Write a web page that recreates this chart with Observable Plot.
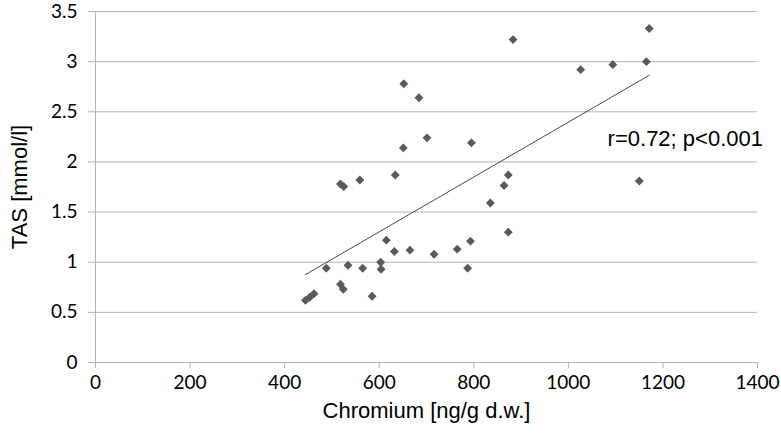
<!DOCTYPE html>
<html>
<head>
<meta charset="utf-8">
<script src="https://cdn.jsdelivr.net/npm/d3@7"></script>
<script src="https://cdn.jsdelivr.net/npm/@observablehq/plot@0.6"></script>
<style>
  html, body { margin: 0; padding: 0; background: #fff; }
  #chart { width: 781px; height: 443px; }
</style>
</head>
<body>
<div id="chart"></div>
<script>
const chromium = [444, 453, 462, 488, 518, 524, 518, 525, 534, 559, 565, 585, 603, 604, 615, 632, 634, 651, 652, 665, 684, 701, 716, 765, 787, 793, 795, 835, 864, 873, 873, 883, 1026, 1094, 1150, 1165, 1171];
const tas      = [0.62, 0.65, 0.685, 0.94, 0.78, 0.73, 1.78, 1.755, 0.97, 1.82, 0.94, 0.66, 1.0, 0.93, 1.22, 1.107, 1.87, 2.14, 2.78, 1.12, 2.64, 2.24, 1.08, 1.13, 0.94, 1.21, 2.19, 1.59, 1.765, 1.87, 1.30, 3.22, 2.92, 2.97, 1.81, 3.00, 3.33];
const xTicks = [0, 200, 400, 600, 800, 1000, 1200, 1400];
const yTicks = [0, 0.5, 1, 1.5, 2, 2.5, 3, 3.5];
const xTitle = "Chromium [ng/g d.w.]";
const yTitle = "TAS [mmol/l]";
const noteText = "r=0.72; p<0.001";
const noteX = 1083;
const noteY = 2.23;

const data = chromium.map((x, i) => ({x, y: tas[i]}));
const gridColor = "#b4b4b4";
const titleFont = "'Liberation Sans', Arial, sans-serif";

const chart = Plot.plot({
  width: 781,
  height: 443,
  marginLeft: 95,
  marginRight: 24,
  marginTop: 11,
  marginBottom: 81,
  style: {fontFamily: "Lato, sans-serif", fontSize: "19px", color: "#000", background: "#fff", overflow: "visible"},
  x: {domain: [0, 1400], label: null},
  y: {domain: [0, 3.5], label: null},
  marks: [
    Plot.gridY(yTicks, {stroke: gridColor, strokeOpacity: 1, strokeWidth: 1}),
    Plot.ruleX([0], {stroke: gridColor, strokeWidth: 1}),
    Plot.ruleY([0], {stroke: gridColor, strokeWidth: 1}),
    Plot.axisY(yTicks, {tickSize: 7, tickPadding: 11, stroke: gridColor, fill: "#000", tickFormat: d => String(d), label: null, fontSize: 19}),
    Plot.axisX(xTicks, {tickSize: 6, tickPadding: 7, stroke: gridColor, fill: "#000", tickFormat: d => String(d), label: null, fontSize: 19}),
    Plot.linearRegressionY(data, {x: "x", y: "y", ci: 0, stroke: "#4a4a4a", strokeWidth: 1}),
    Plot.dot(data, {x: "x", y: "y", symbol: "diamond2", r: 4, fill: "#5a5a5a", stroke: "none"}),
    Plot.text([noteText], {x: noteX, y: noteY, text: d => d, textAnchor: "start", lineAnchor: "middle", fontSize: 22, fontFamily: titleFont, fill: "#000"}),
    Plot.text([xTitle], {frameAnchor: "bottom", dy: 48, text: d => d, textAnchor: "middle", lineAnchor: "middle", fontSize: 22, fontFamily: titleFont, fill: "#000"}),
    Plot.text([yTitle], {frameAnchor: "left", dx: -76, rotate: -90, text: d => d, textAnchor: "middle", lineAnchor: "middle", fontSize: 22, fontFamily: titleFont, fill: "#000"})
  ]
});
document.getElementById("chart").appendChild(chart);
</script>
</body>
</html>
